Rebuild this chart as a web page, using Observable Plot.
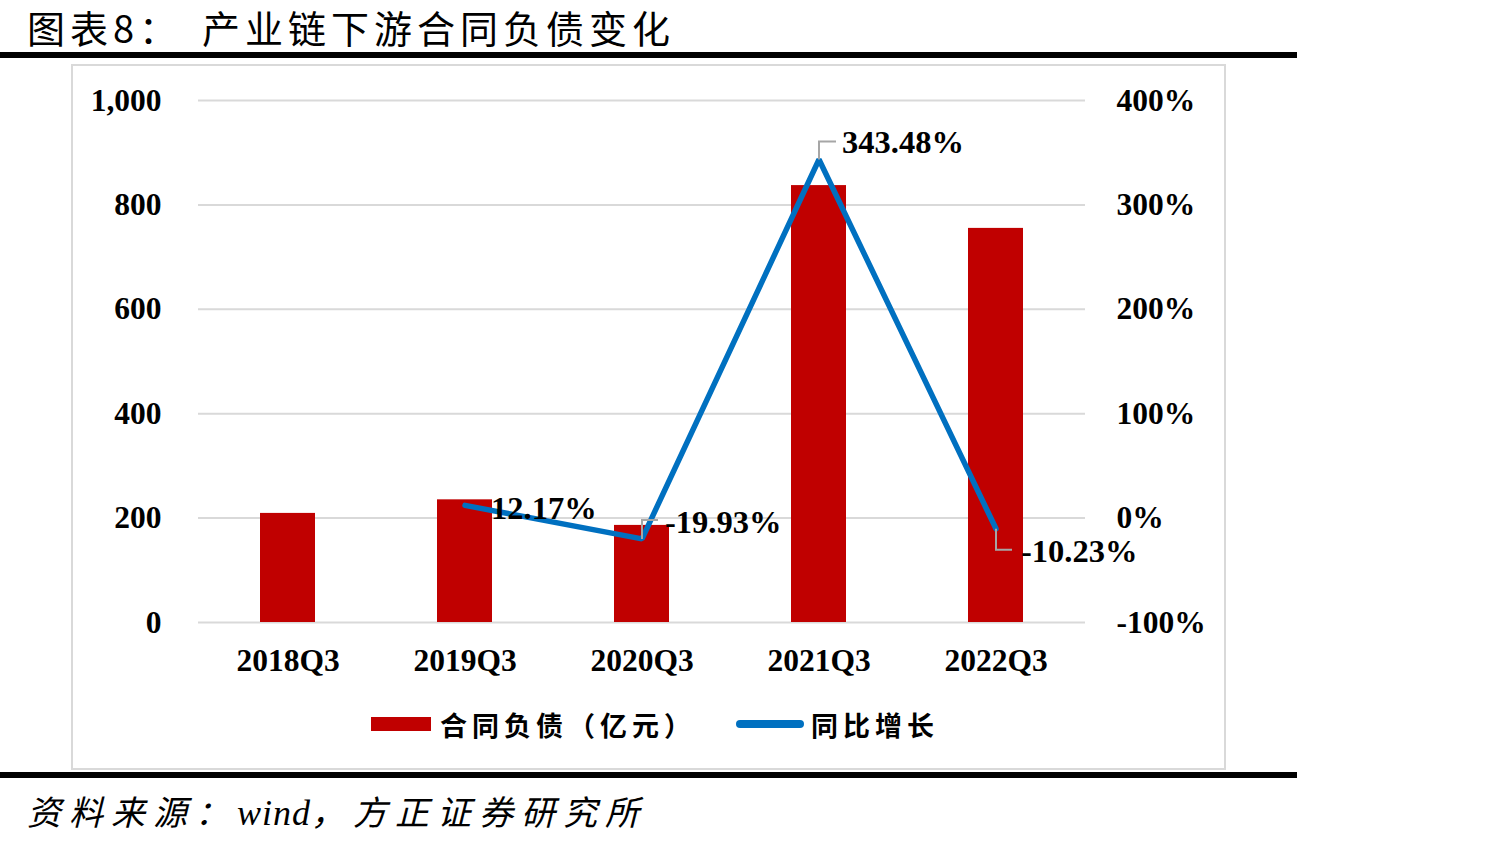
<!DOCTYPE html>
<html>
<head>
<meta charset="utf-8">
<script src="https://cdn.jsdelivr.net/npm/d3@7"></script>
<script src="https://cdn.jsdelivr.net/npm/@observablehq/plot@0.6"></script>
<style>
  body { margin: 0; background: #fff; width: 1490px; height: 846px; position: relative; overflow: hidden; }
  .cjk { font-family: "Noto Sans CJK SC", sans-serif; }
  #title { position: absolute; left: 27px; top: -1px; font-size: 38px; line-height: normal; color: #000; white-space: pre; letter-spacing: 5px; }
  #title .gap { display: inline-block; width: 20px; }
  .rule { position: absolute; left: 0; width: 1297px; height: 6px; background: #000; }
  #frame { position: absolute; left: 71px; top: 64px; width: 1151px; height: 702px; border: 2px solid #d9d9d9; }
  #chart { position: absolute; left: 71px; top: 64px; }
  #legend { position: absolute; left: 0; top: 709px; width: 1490px; height: 32px; }
  .sw { position: absolute; }
  .lt { position: absolute; top: 0; font-size: 27px; font-weight: bold; line-height: 32px; letter-spacing: 5px; color: #000; white-space: pre; }
  #source { position: absolute; left: 27px; top: 790px; font-size: 34px; line-height: 42px; font-style: italic; color: #000; white-space: pre; letter-spacing: 8px; }
  #source .w { font-family: "Liberation Serif", serif; letter-spacing: 1px; font-size: 36px; }
</style>
</head>
<body>
<div id="title" class="cjk">图表8：<span class="gap"></span>产业链下游合同负债变化</div>
<div class="rule" style="top:52px"></div>
<div id="frame"></div>
<div id="chart"></div>
<div id="legend">
  <div class="sw" style="left:371px;top:8px;width:60px;height:14px;background:#C00000"></div>
  <div class="lt cjk" style="left:440px">合同负债（亿元）</div>
  <div class="sw" style="left:736px;top:11px;width:68px;height:8px;border-radius:4px;background:#0070C0"></div>
  <div class="lt cjk" style="left:811px">同比增长</div>
</div>
<div class="rule" style="top:772px"></div>
<div id="source" class="cjk">资料来源：<span class="w">wind</span>，方正证券研究所</div>

<script>
// Quarter categories
const quarters = ["2018Q3", "2019Q3", "2020Q3", "2021Q3", "2022Q3"];
// Contract liabilities (亿元)
const liabilities = [209, 235, 186, 837, 755];
// Year-over-year growth (%), first quarter has no prior year
const growth = [null, 12.17, -19.93, 343.48, -10.23];
// Axis tick values
const leftTicks = [0, 200, 400, 600, 800, 1000];
const rightTicks = [-100, 0, 100, 200, 300, 400];

// Right axis (-100%..400%) shares the left scale (0..1000)
const toLeft = g => (g + 100) * 2;
const fromLeft = v => v / 2 - 100;

const bars = quarters.map((q, i) => ({q, v: liabilities[i]}));
const pts = quarters.map((q, i) => ({q, g: growth[i]})).filter(d => d.g != null);

const labelFont = {fontFamily: "Liberation Serif, serif", fontWeight: "bold", fontSize: 32.5, fill: "#000"};
const pct = d => d.g.toFixed(2) + "%";

// L-shaped leader line drawn as a custom symbol around each point
const leader = (dx, dy) => ({draw(ctx) { ctx.moveTo(0, 0); ctx.lineTo(0, dy); ctx.lineTo(dx, dy); }});
const leaderMark = (q, dx, dy) => Plot.dot(pts.filter(d => d.q === q), {
  x: "q", y: d => toLeft(d.g), symbol: leader(dx, dy), r: 10,
  fill: "none", stroke: "#a6a6a6", strokeWidth: 2
});
const labelMark = (q, dx, dy) => Plot.text(pts.filter(d => d.q === q), {
  x: "q", y: d => toLeft(d.g), text: pct, textAnchor: "start", dx, dy, ...labelFont
});

const chart = Plot.plot({
  width: 1153,
  height: 640,
  marginLeft: 127,
  marginRight: 139,
  marginTop: 36,
  marginBottom: 82,
  style: {fontFamily: "Liberation Serif, serif", fontSize: "31.5px", fontWeight: "bold", color: "#000", background: "transparent"},
  x: {domain: quarters, paddingInner: 0.69, paddingOuter: 0.345, axis: null},
  y: {domain: [0, 1000], axis: null},
  marks: [
    Plot.gridY(leftTicks, {stroke: "#d9d9d9", strokeOpacity: 1, strokeWidth: 2}),
    Plot.barY(bars, {x: "q", y: "v", fill: "#C00000"}),
    Plot.axisY(leftTicks, {anchor: "left", tickSize: 0, tickPadding: 37, tickFormat: d3.format(","), label: null}),
    Plot.axisY(rightTicks.map(toLeft), {anchor: "right", tickSize: 0, tickPadding: 31, tickFormat: v => fromLeft(v) + "%", label: null}),
    Plot.axisX({tickSize: 0, tickPadding: 26, label: null}),
    Plot.line(pts, {x: "q", y: d => toLeft(d.g), stroke: "#0070C0", strokeWidth: 5.5, strokeLinejoin: "miter", strokeLinecap: "round"}),
    leaderMark("2020Q3", 16, -19),
    leaderMark("2021Q3", 17, -18),
    leaderMark("2022Q3", 16, 21),
    labelMark("2019Q3", 26, 3),
    labelMark("2020Q3", 23, -16),
    labelMark("2021Q3", 23, -17),
    labelMark("2022Q3", 25, 23)
  ]
});
document.getElementById("chart").appendChild(chart);
</script>
</body>
</html>
